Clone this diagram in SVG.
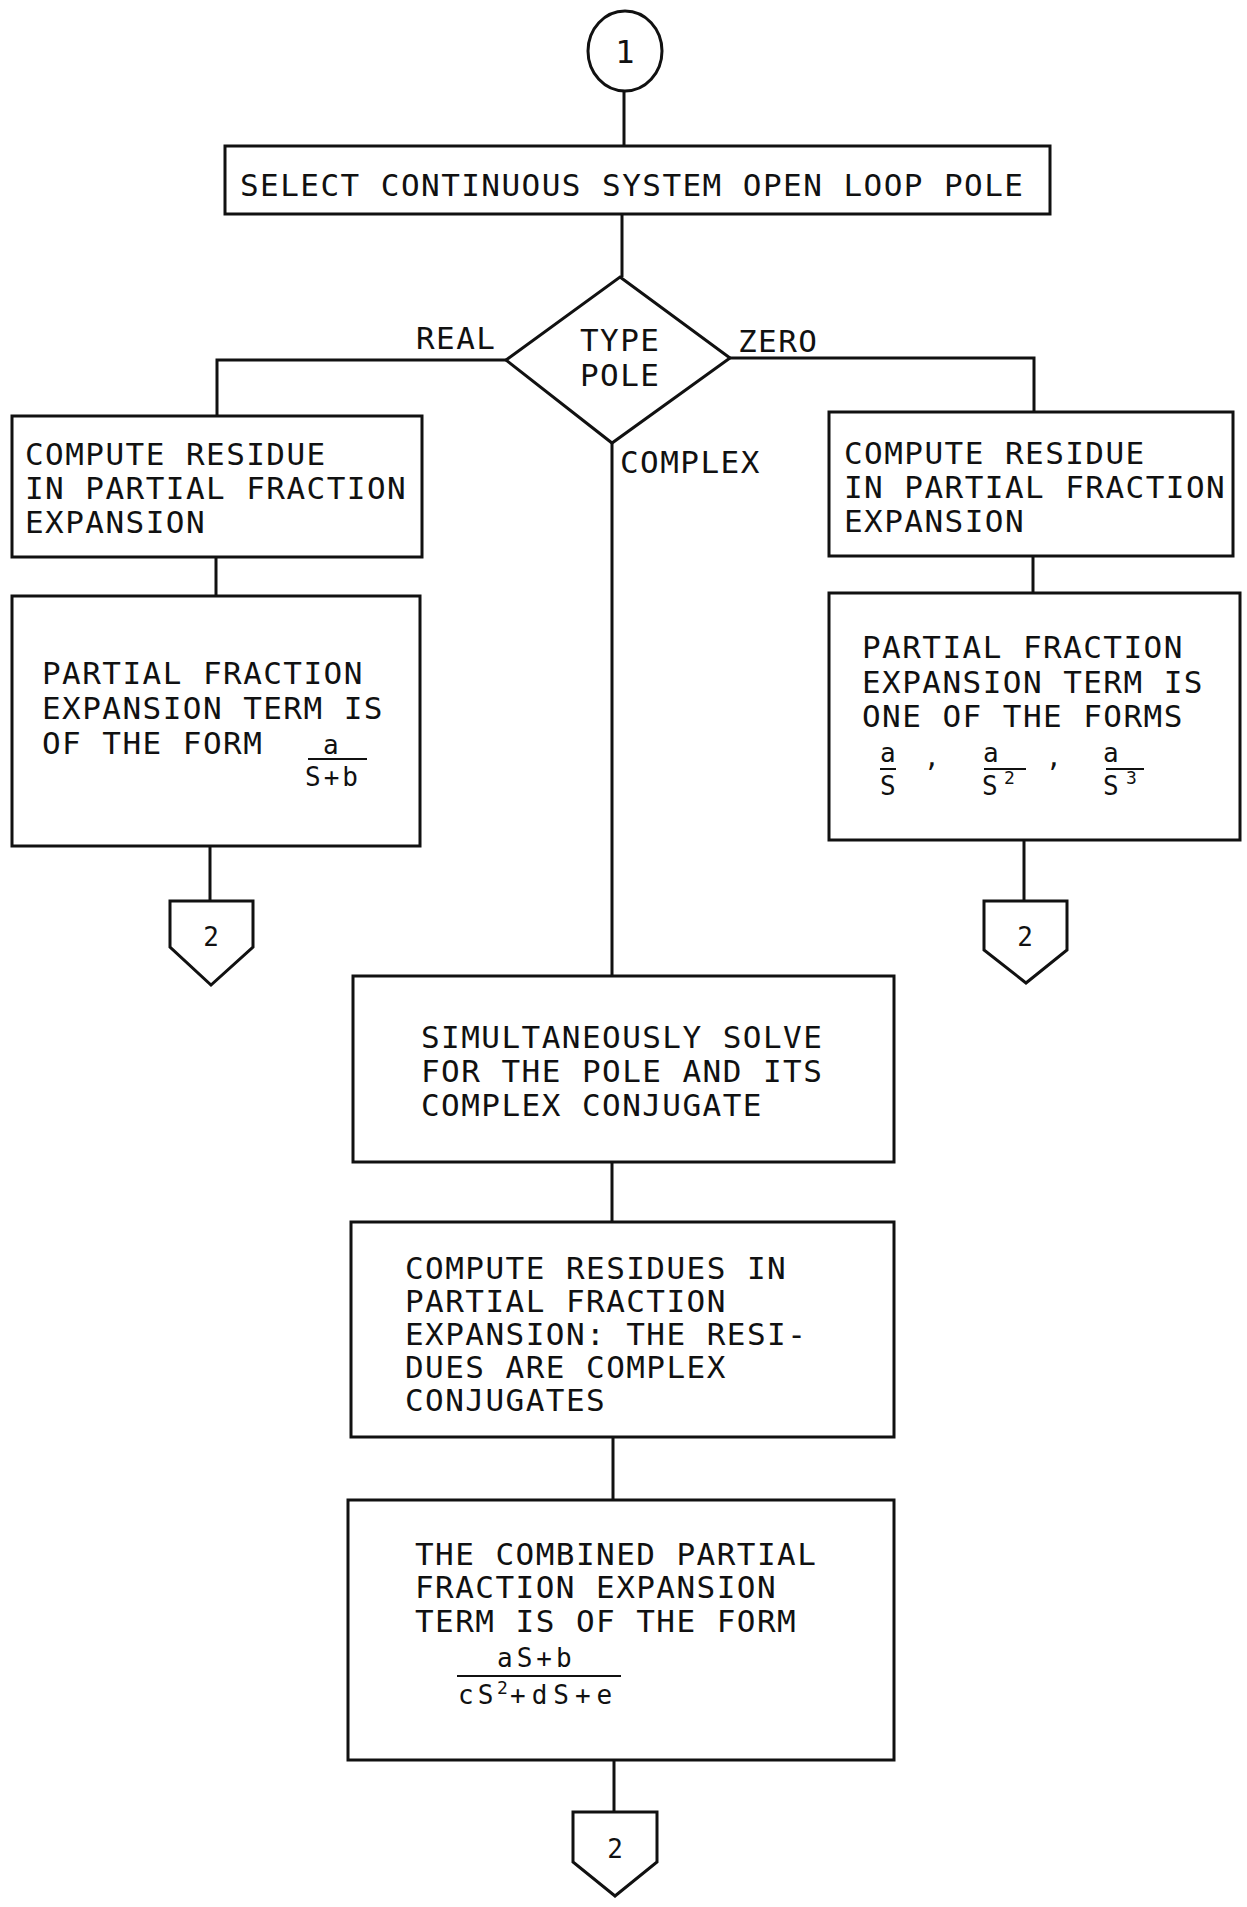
<svg xmlns="http://www.w3.org/2000/svg" width="1247" height="1907" viewBox="0 0 1247 1907">
<style>
.bg{fill:#fff}
.box{fill:none;stroke:#111;stroke-width:3}
.conn{fill:none;stroke:#111;stroke-width:3}
.fl{fill:none;stroke:#111;stroke-width:2}
.t{font-family:"DejaVu Sans Mono","Liberation Mono",monospace;font-size:31px;letter-spacing:1.45px;fill:#111}
.m{font-family:"DejaVu Sans Mono","Liberation Mono",monospace;font-size:26px;fill:#111}
.sup{font-family:"DejaVu Sans Mono","Liberation Mono",monospace;font-size:18px;fill:#111}
.n{font-family:"DejaVu Sans Mono","Liberation Mono",monospace;font-size:26px;fill:#111;text-anchor:middle}
</style>
<rect class="bg" x="0" y="0" width="1247" height="1907"/>
<g id="connectors">
<path class="conn" d="M624 91 V146"/>
<path class="conn" d="M622 214 V277"/>
<path class="conn" d="M506 360 H217 V416"/>
<path class="conn" d="M730 358 H1034 V412"/>
<path class="conn" d="M612 443 V976"/>
<path class="conn" d="M216 557 V596"/>
<path class="conn" d="M1033 556 V593"/>
<path class="conn" d="M210 846 V901"/>
<path class="conn" d="M1024 840 V901"/>
<path class="conn" d="M612 1162 V1222"/>
<path class="conn" d="M613 1437 V1500"/>
<path class="conn" d="M614 1760 V1812"/>
</g>
<g id="start">
<ellipse class="box" cx="625" cy="51" rx="37" ry="40"/>
<text class="n" x="625" y="63" style="font-size:32px">1</text>
</g>
<g id="select">
<rect class="box" x="225" y="146" width="825" height="68"/>
<text class="t" x="240" y="196">SELECT CONTINUOUS SYSTEM OPEN LOOP POLE</text>
</g>
<g id="decision">
<polygon class="box" points="620,277 730,358 612,443 506,360"/>
<text class="t" x="580" y="351">TYPE</text>
<text class="t" x="580" y="386">POLE</text>
</g>
<g id="labels">
<text class="t" x="416" y="349">REAL</text>
<text class="t" x="738" y="352">ZERO</text>
<text class="t" x="620" y="473">COMPLEX</text>
</g>
<g id="real-residue">
<rect class="box" x="12" y="416" width="410" height="141"/>
<text class="t" x="25" y="465">COMPUTE RESIDUE</text>
<text class="t" x="25" y="499">IN PARTIAL FRACTION</text>
<text class="t" x="25" y="533">EXPANSION</text>
</g>
<g id="real-term">
<rect class="box" x="12" y="596" width="408" height="250"/>
<text class="t" x="42" y="684">PARTIAL FRACTION</text>
<text class="t" x="42" y="719">EXPANSION TERM IS</text>
<text class="t" x="42" y="754">OF THE FORM</text>
<text class="m" x="323" y="754">a</text>
<line class="fl" x1="308" y1="759" x2="367" y2="759"/>
<text class="m" x="305" y="786" style="letter-spacing:3px">S+b</text>
</g>
<g id="zero-residue">
<rect class="box" x="829" y="412" width="404" height="144"/>
<text class="t" x="844" y="464">COMPUTE RESIDUE</text>
<text class="t" x="844" y="498">IN PARTIAL FRACTION</text>
<text class="t" x="844" y="532">EXPANSION</text>
</g>
<g id="zero-term">
<rect class="box" x="829" y="593" width="411" height="247"/>
<text class="t" x="862" y="658">PARTIAL FRACTION</text>
<text class="t" x="862" y="693">EXPANSION TERM IS</text>
<text class="t" x="862" y="727">ONE OF THE FORMS</text>
<text class="m" x="880" y="762">a</text>
<line class="fl" x1="880" y1="769" x2="896" y2="769"/>
<text class="m" x="880" y="795">S</text>
<text class="m" x="924" y="766">,</text>
<text class="m" x="983" y="762">a</text>
<line class="fl" x1="984" y1="769" x2="1026" y2="769"/>
<text class="m" x="982" y="795">S</text>
<text class="sup" x="1004" y="784">2</text>
<text class="m" x="1046" y="766">,</text>
<text class="m" x="1103" y="762">a</text>
<line class="fl" x1="1106" y1="769" x2="1144" y2="769"/>
<text class="m" x="1103" y="795">S</text>
<text class="sup" x="1126" y="784">3</text>
</g>
<g id="offpage-real">
<polygon class="box" points="170,901 253,901 253,947 211,985 170,947"/>
<text class="n" x="211" y="946">2</text>
</g>
<g id="offpage-zero">
<polygon class="box" points="984,901 1067,901 1067,950 1026,983 984,950"/>
<text class="n" x="1025" y="946">2</text>
</g>
<g id="solve">
<rect class="box" x="353" y="976" width="541" height="186"/>
<text class="t" x="421" y="1048">SIMULTANEOUSLY SOLVE</text>
<text class="t" x="421" y="1082">FOR THE POLE AND ITS</text>
<text class="t" x="421" y="1116">COMPLEX CONJUGATE</text>
</g>
<g id="residues">
<rect class="box" x="351" y="1222" width="543" height="215"/>
<text class="t" x="405" y="1279">COMPUTE RESIDUES IN</text>
<text class="t" x="405" y="1312">PARTIAL FRACTION</text>
<text class="t" x="405" y="1345">EXPANSION: THE RESI-</text>
<text class="t" x="405" y="1378">DUES ARE COMPLEX</text>
<text class="t" x="405" y="1411">CONJUGATES</text>
</g>
<g id="combined">
<rect class="box" x="348" y="1500" width="546" height="260"/>
<text class="t" x="415" y="1565">THE COMBINED PARTIAL</text>
<text class="t" x="415" y="1598">FRACTION EXPANSION</text>
<text class="t" x="415" y="1632">TERM IS OF THE FORM</text>
<text class="m" x="497" y="1667" style="letter-spacing:4px">aS+b</text>
<line class="fl" x1="457" y1="1676" x2="621" y2="1676"/>
<text class="m" x="458" y="1704" style="letter-spacing:4px">cS</text>
<text class="sup" x="497" y="1694">2</text>
<text class="m" x="510" y="1704" style="letter-spacing:6px">+dS+e</text>
</g>
<g id="offpage-complex">
<polygon class="box" points="573,1812 657,1812 657,1862 615,1896 573,1862"/>
<text class="n" x="615" y="1858">2</text>
</g>
</svg>
